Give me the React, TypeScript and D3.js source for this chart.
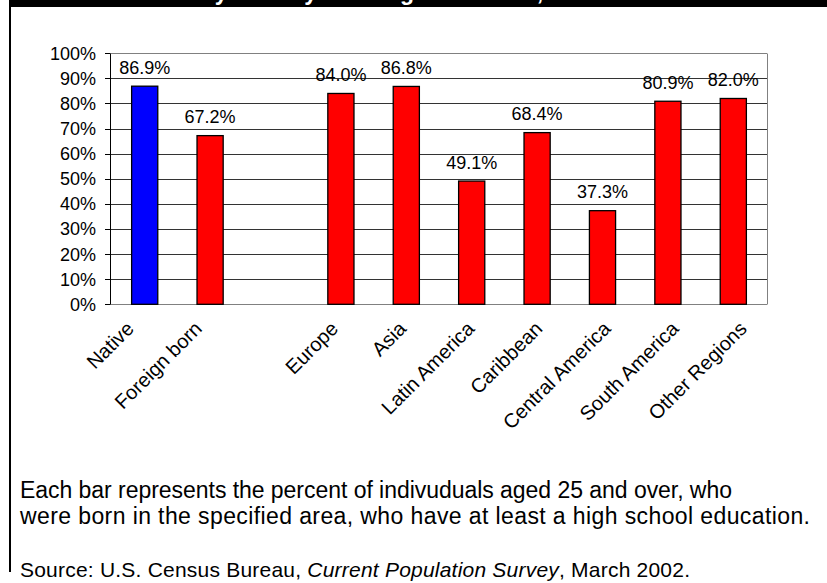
import React from "react";
import * as d3 from "d3";

const categories = ["Native", "Foreign born", "", "Europe", "Asia", "Latin America", "Caribbean", "Central America", "South America", "Other Regions"];
const values: (number | null)[] = [86.9, 67.2, null, 84.0, 86.8, 49.1, 68.4, 37.3, 80.9, 82.0];
const barColors = ["#0000FF", "#FF0000", "#FF0000", "#FF0000", "#FF0000", "#FF0000", "#FF0000", "#FF0000", "#FF0000", "#FF0000"];
const yTicks = [0, 10, 20, 30, 40, 50, 60, 70, 80, 90, 100];
const titleText = "High School Graduates by Nativity and Region of Birth, 2002";
const noteLines = [
  "Each bar represents the percent of indivuduals aged 25 and over, who",
  "were born in the specified area, who have at least a high school education.",
];

const FONT = "'Liberation Sans', Arial, sans-serif";

export default function App() {
  const W = 827, H = 583;
  const plotL = 110, plotR = 767, plotT = 53.3, plotB = 304.3;
  const y = d3.scaleLinear().domain([0, 100]).range([plotB, plotT]);
  const keys = categories.map((c, i) => c + "#" + i);
  const x = d3.scaleBand<string>().domain(keys).range([112, 766]).paddingInner(0.6).paddingOuter(0.3);
  const xl = d3.scalePoint<string>().domain(keys).range([125, 738]);
  return (
    <svg width={W} height={H} style={{ position: "absolute", left: 0, top: 0, background: "#fff" }} fontFamily={FONT}>
      <rect x={0} y={0} width={W} height={H} fill="#fff" />
      {/* title bar */}
      <rect x={10} y={0} width={W - 10} height={7} fill="#000" />
      <clipPath id="titleClip"><rect x={10} y={0} width={W - 10} height={7} /></clipPath>
      <text x={-60} y={-0.5} fill="#fff" fontSize={23} fontWeight="bold" clipPath="url(#titleClip)" textAnchor="start">
        {titleText}
      </text>
      {/* left border */}
      <line x1={10} x2={10} y1={0} y2={572} stroke="#000" strokeWidth={2} />
      {/* gridlines */}
      {yTicks.map((t) => (
        <line key={"g" + t} x1={plotL} x2={plotR} y1={Math.round(y(t)) + 0.5} y2={Math.round(y(t)) + 0.5} stroke={t === 0 || t === 100 ? "#808080" : "#333"} strokeWidth={1} />
      ))}
      <line x1={plotR + 0.5} x2={plotR + 0.5} y1={Math.round(plotT) + 0.5} y2={Math.round(plotB) + 0.5} stroke="#808080" strokeWidth={1} />
      {/* y axis */}
      <line x1={plotL + 0.5} x2={plotL + 0.5} y1={Math.round(plotT) + 0.5} y2={Math.round(plotB) + 0.5} stroke="#000" strokeWidth={1} />
      {yTicks.map((t) => (
        <g key={"t" + t}>
          <line x1={105} x2={plotL} y1={Math.round(y(t)) + 0.5} y2={Math.round(y(t)) + 0.5} stroke="#000" />
          <text x={96} y={y(t)} dy="0.36em" textAnchor="end" fontSize={18} fill="#000">{t + "%"}</text>
        </g>
      ))}
      {/* bars */}
      {values.map((v, i) => {
        if (v == null) return null;
        const x0 = x(keys[i])!;
        const top = y(v);
        const cx = x0 + x.bandwidth() / 2;
        const labelY = Math.max(72, top - 12.5);
        return (
          <g key={"b" + i}>
            <rect x={x0} y={top} width={x.bandwidth()} height={plotB - top} fill={barColors[i]} stroke="#000" strokeWidth={1.3} />
            <text x={cx} y={labelY} textAnchor="middle" fontSize={18} fill="#000">{v.toFixed(1) + "%"}</text>
          </g>
        );
      })}
      {/* x labels */}
      {categories.map((c, i) => {
        if (!c) return null;
        const ex = xl(keys[i])!;
        return (
          <text key={"x" + i} transform={`translate(${ex + 10},${330}) rotate(-45)`} textAnchor="end" fontSize={20} fill="#000">{c}</text>
        );
      })}
      {/* notes */}
      <text x={20} y={498} fontSize={23} fill="#000" textLength={712} lengthAdjust="spacing">{noteLines[0]}</text>
      <text x={20} y={524} fontSize={23} fill="#000" textLength={790} lengthAdjust="spacing">{noteLines[1]}</text>
      <text x={20} y={577} fontSize={21} fill="#000" textLength={670} lengthAdjust="spacing">
        Source: U.S. Census Bureau, <tspan fontStyle="italic">Current Population Survey</tspan>, March 2002.
      </text>
    </svg>
  );
}
